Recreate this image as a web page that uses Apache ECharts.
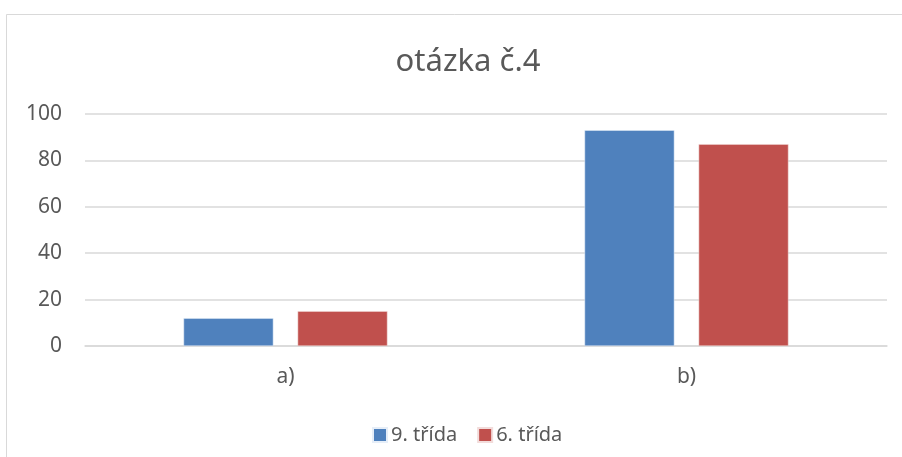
<!DOCTYPE html>
<html>
<head>
<meta charset="utf-8">
<script src="https://cdn.jsdelivr.net/npm/echarts@6/dist/echarts.min.js"></script>
<style>
  html, body { margin: 0; padding: 0; background: #fff; }
  #chart { width: 902px; height: 457px; }
</style>
</head>
<body>
<div id="chart"></div>
<script>
var categories = ['a)', 'b)'];
var seriesNames = ['9. třída', '6. třída'];
var trida9 = [12, 93];
var trida6 = [15, 87];
var yTicks = [0, 20, 40, 60, 80, 100];

var textColor = '#595959';
var font = 'Noto Sans';

var myChart = echarts.init(document.getElementById('chart'));

myChart.setOption({
  backgroundColor: '#fff',
  animation: false,
  title: {
    text: 'otázka č.4',
    left: 463,
    top: 42,
    textAlign: 'center',
    textStyle: { color: textColor, fontFamily: font, fontSize: 31, fontWeight: 'normal' }
  },
  // chart border (right/bottom are cut off in the reference)
  graphic: [{
    type: 'rect',
    shape: { x: 6.5, y: 14.5, width: 1000, height: 1000 },
    style: { fill: 'none', stroke: '#d9d9d9', lineWidth: 1 },
    silent: true
  }],
  legend: {
    data: seriesNames,
    left: 367,
    top: 420,
    itemWidth: 14,
    itemHeight: 14,
    itemGap: 20,
    icon: 'rect',
    textStyle: { color: textColor, fontFamily: font, fontSize: 20, padding: [0, 0, 0, -1] }
  },
  grid: { left: 85, right: 15, top: 114, bottom: 111, containLabel: false },
  xAxis: {
    type: 'category',
    data: categories,
    axisTick: { show: false },
    axisLine: { lineStyle: { color: '#d9d9d9', width: 1.5 } },
    axisLabel: { color: textColor, fontFamily: font, fontSize: 21, margin: 21 }
  },
  yAxis: {
    type: 'value',
    min: yTicks[0],
    max: yTicks[yTicks.length - 1],
    interval: 20,
    axisLine: { show: false },
    axisTick: { show: false },
    splitLine: { lineStyle: { color: '#d9d9d9', width: 1.5 } },
    axisLabel: { color: textColor, fontFamily: font, fontSize: 21, margin: 23 }
  },
  series: [
    {
      name: seriesNames[0],
      type: 'bar',
      data: trida9,
      barWidth: '22.4%',
      barGap: '27%',
      itemStyle: { color: '#4f81bd', borderColor: '#e6eef8', borderWidth: 0.5 }
    },
    {
      name: seriesNames[1],
      type: 'bar',
      data: trida6,
      barWidth: '22.4%',
      barGap: '27%',
      itemStyle: { color: '#c0504d', borderColor: '#f2dcdb', borderWidth: 0.5 }
    }
  ]
});
</script>
</body>
</html>
